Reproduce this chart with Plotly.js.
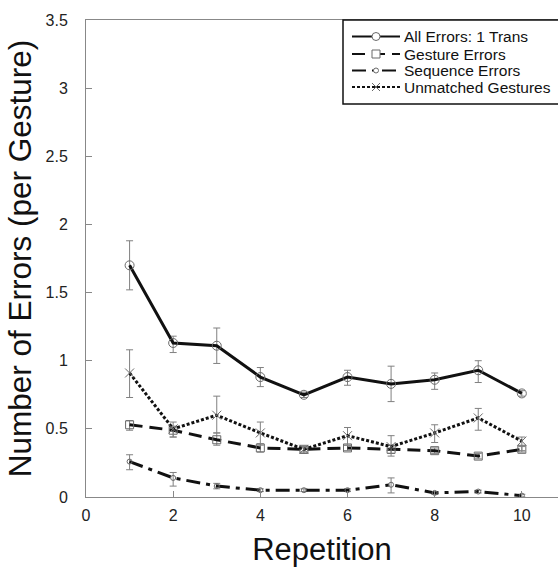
<!DOCTYPE html>
<html>
<head>
<meta charset="utf-8">
<script src="https://cdn.plot.ly/plotly-3.0.1.min.js"></script>
<style>
  html, body { margin: 0; padding: 0; background: #fff; }
  #chart { width: 558px; height: 571px; }
</style>
</head>
<body>
<div id="chart"></div>
<script>
// Repetition index
const repetition = [1, 2, 3, 4, 5, 6, 7, 8, 9, 10];

// All Errors: 1 Trans
const allErrors      = [1.70, 1.13, 1.11, 0.88, 0.75, 0.88, 0.83, 0.86, 0.93, 0.76];
const allErrUp       = [0.18, 0.05, 0.13, 0.07, 0.02, 0.05, 0.13, 0.05, 0.07, 0.02];
const allErrDown     = [0.18, 0.07, 0.13, 0.07, 0.02, 0.06, 0.13, 0.07, 0.09, 0.02];

// Gesture Errors
const gestureErrors  = [0.53, 0.49, 0.42, 0.36, 0.35, 0.36, 0.35, 0.34, 0.30, 0.35];
const gestureErrUp   = [0.03, 0.02, 0.05, 0.03, 0.02, 0.02, 0.03, 0.02, 0.02, 0.02];
const gestureErrDown = [0.04, 0.05, 0.04, 0.03, 0.03, 0.02, 0.03, 0.02, 0.02, 0.02];

// Sequence Errors
const sequenceErrors = [0.26, 0.14, 0.08, 0.05, 0.05, 0.05, 0.09, 0.03, 0.04, 0.01];
const sequenceErrUp  = [0.05, 0.04, 0.02, 0.01, 0.01, 0.01, 0.05, 0.01, 0.01, 0.01];
const sequenceErrDown= [0.06, 0.06, 0.02, 0.01, 0.01, 0.01, 0.06, 0.01, 0.01, 0.01];

// Unmatched Gestures
const unmatched      = [0.91, 0.50, 0.60, 0.47, 0.35, 0.45, 0.37, 0.47, 0.58, 0.41];
const unmatchedUp    = [0.17, 0.05, 0.14, 0.08, 0.02, 0.06, 0.08, 0.06, 0.07, 0.03];
const unmatchedDown  = [0.18, 0.06, 0.13, 0.09, 0.02, 0.07, 0.07, 0.07, 0.09, 0.07];

const seriesNames = ['All Errors: 1 Trans', 'Gesture Errors', 'Sequence Errors', 'Unmatched Gestures'];
const yTicks = [0, 0.5, 1, 1.5, 2, 2.5, 3, 3.5];
const yTickText = ['0', '0.5', '1', '1.5', '2', '2.5', '3', '3.5'];
const xTicks = [0, 2, 4, 6, 8, 10];

const FONT = 'Liberation Sans, Arial, Helvetica, sans-serif';
const W = 558, H = 571;
const M = { l: 86, r: 0, t: 20, b: 74 };
const plotW = W - M.l - M.r, plotH = H - M.t - M.b;

// pixel -> paper helpers for the boxed key in the upper right
const px = v => (v - M.l) / plotW;
const py = v => (H - M.b - v) / plotH;

const lineDash = ['solid', '13px,7px', '14px,6px,4px,6px', '3px,2px'];
const markerGray = '#6a6a6a';

function errBars(up, down) {
  return {
    type: 'data', symmetric: false, array: up, arrayminus: down,
    color: '#808080', thickness: 1, width: 3.5
  };
}

function series(name, y, up, down, dash, symbol, size) {
  return {
    type: 'scatter', mode: 'lines+markers', name: name,
    x: repetition, y: y,
    error_y: errBars(up, down),
    line: { color: '#111', width: 3, dash: dash },
    marker: { symbol: symbol, size: size, color: markerGray,
              line: { color: markerGray, width: 1 } }
  };
}

const traces = [
  series(seriesNames[0], allErrors, allErrUp, allErrDown, lineDash[0], 'circle-open', 9),
  series(seriesNames[1], gestureErrors, gestureErrUp, gestureErrDown, lineDash[1], 'square-open', 8),
  series(seriesNames[2], sequenceErrors, sequenceErrUp, sequenceErrDown, lineDash[2], 'circle-open', 5),
  series(seriesNames[3], unmatched, unmatchedUp, unmatchedDown, lineDash[3], 'x-thin-open', 9)
];

// ---- boxed key (drawn with shapes + annotations) ----
const key = { left: 343, top: 20, right: 566, bottom: 104,
              rows: [36.5, 54, 70.5, 87], x0: 352, x1: 400, mx: 376, tx: 402 };
const shapes = [];
const annotations = [];

shapes.push({
  type: 'rect', xref: 'paper', yref: 'paper', layer: 'above',
  x0: px(key.left), x1: px(key.right), y0: py(key.bottom), y1: py(key.top),
  fillcolor: '#fff', line: { color: '#111', width: 1.5 }
});

key.rows.forEach((ry, i) => {
  const lw = 2.2;
  shapes.push({
    type: 'line', xref: 'paper', yref: 'paper', layer: 'above',
    x0: px(key.x0), x1: px(key.x1), y0: py(ry), y1: py(ry),
    line: { color: '#111', width: lw, dash: lineDash[i] }
  });
  const mline = { color: markerGray, width: 1 };
  if (i === 0 || i === 2) {
    const r = i === 0 ? 4 : 2.5;
    shapes.push({
      type: 'circle', xref: 'paper', yref: 'paper', layer: 'above',
      x0: px(key.mx - r), x1: px(key.mx + r), y0: py(ry + r), y1: py(ry - r),
      fillcolor: '#fff', line: mline
    });
  } else if (i === 1) {
    const r = 4;
    shapes.push({
      type: 'rect', xref: 'paper', yref: 'paper', layer: 'above',
      x0: px(key.mx - r), x1: px(key.mx + r), y0: py(ry + r), y1: py(ry - r),
      fillcolor: '#fff', line: mline
    });
  } else {
    const r = 4;
    [[-1, -1], [-1, 1]].forEach(([a, b]) => {
      shapes.push({
        type: 'line', xref: 'paper', yref: 'paper', layer: 'above',
        x0: px(key.mx + a * r), x1: px(key.mx - a * r),
        y0: py(ry + b * r), y1: py(ry - b * r), line: mline
      });
    });
  }
  annotations.push({
    xref: 'paper', yref: 'paper', x: px(key.tx), y: py(ry),
    xanchor: 'left', yanchor: 'middle', showarrow: false,
    text: seriesNames[i],
    font: { family: FONT, size: 15.5, color: '#111' }
  });
});

const tickFont = { family: FONT, size: 16, color: '#222' };

const layout = {
  width: W, height: H,
  margin: { l: M.l, r: M.r, t: M.t, b: M.b, autoexpand: false },
  paper_bgcolor: '#fff', plot_bgcolor: '#fff',
  showlegend: false,
  shapes: shapes,
  annotations: annotations,
  xaxis: {
    range: [0, 10.83], tickvals: xTicks, ticktext: xTicks.map(String),
    ticks: 'inside', ticklen: 6, tickcolor: '#888',
    showline: true, linecolor: '#888', linewidth: 1, mirror: true,
    showgrid: false, zeroline: false,
    tickfont: tickFont, ticklabelstandoff: 4,
    title: { text: 'Repetition', font: { family: FONT, size: 31, color: '#111' }, standoff: 15 }
  },
  yaxis: {
    range: [0, 3.5], tickvals: yTicks, ticktext: yTickText,
    ticks: 'inside', ticklen: 6, tickcolor: '#888',
    showline: true, linecolor: '#888', linewidth: 1, mirror: true,
    showgrid: false, zeroline: false,
    tickfont: tickFont, ticklabelstandoff: 14,
    title: { text: 'Number of Errors (per Gesture)', font: { family: FONT, size: 31.5, color: '#111' }, standoff: 4 }
  }
};

Plotly.newPlot('chart', traces, layout, { displayModeBar: false, staticPlot: true });
</script>
</body>
</html>
